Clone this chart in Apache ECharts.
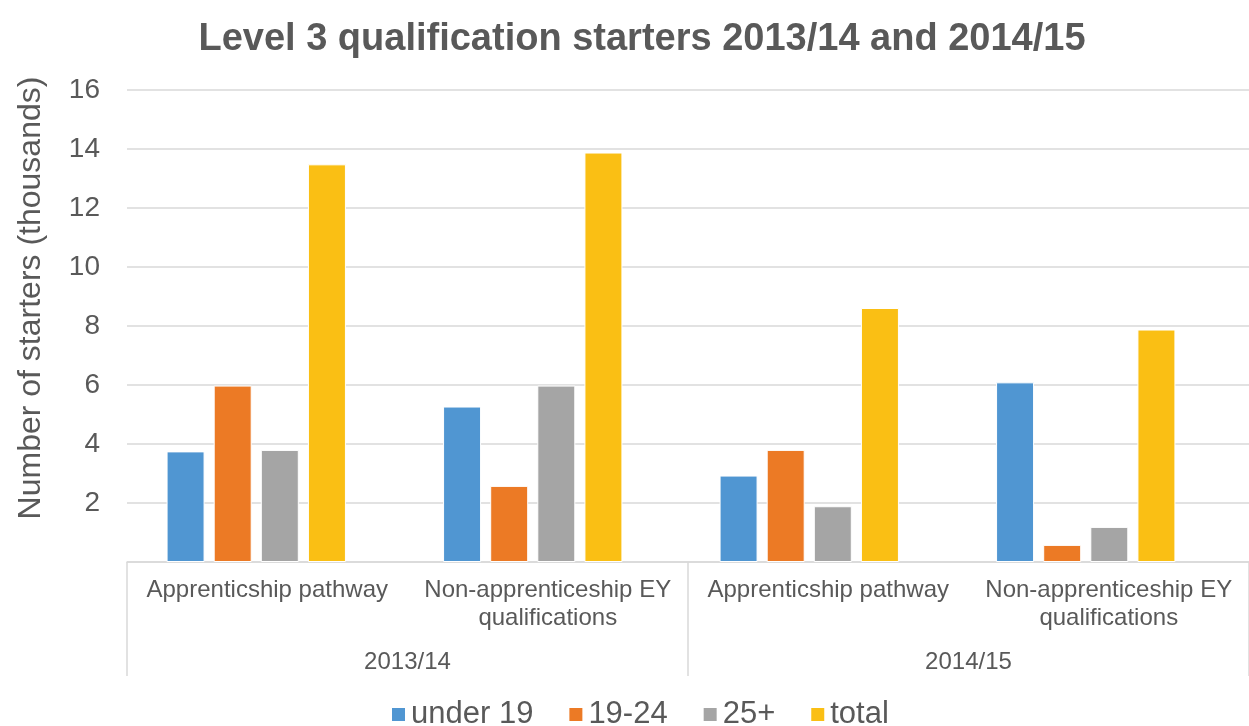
<!DOCTYPE html>
<html>
<head>
<meta charset="utf-8">
<script src="https://cdn.jsdelivr.net/npm/echarts@6/dist/echarts.min.js"></script>
<style>
html,body{margin:0;padding:0;background:#fff;}
#chart{width:1249px;height:726px;}
</style>
</head>
<body>
<div id="chart"></div>
<script>
const titleText = 'Level 3 qualification starters 2013/14 and 2014/15';
const categories = ['Apprenticship pathway', 'Non-apprenticeship EY\nqualifications', 'Apprenticship pathway', 'Non-apprenticeship EY\nqualifications'];
const groups = ['2013/14', '2014/15'];
const seriesNames = ['under 19', '19-24', '25+', 'total'];
const under19 = [3.75, 5.27, 2.93, 6.09];
const age19to24 = [5.98, 2.58, 3.80, 0.58];
const age25plus = [3.80, 5.98, 1.89, 1.19];
const total = [13.48, 13.88, 8.61, 7.88];
const yTicks = [0, 2, 4, 6, 8, 10, 12, 14, 16];

const colors = ['#5096D2', '#EC7A25', '#A5A5A5', '#FABF14'];
const values = [under19, age19to24, age25plus, total];
const textColor = '#595959';
const font = 'Liberation Sans, Arial, sans-serif';

const chart = echarts.init(document.getElementById('chart'), null, {renderer: 'canvas'});
const option = {
  animation: false,
  color: colors,
  textStyle: {fontFamily: font},
  title: {
    text: titleText,
    left: 637,
    textAlign: 'center',
    top: 16,
    textStyle: {fontFamily: font, fontWeight: 'bold', fontSize: 38, color: textColor}
  },
  legend: {
    data: seriesNames,
    left: 390,
    top: 699,
    padding: 0,
    icon: 'rect',
    itemWidth: 15,
    itemHeight: 15,
    itemGap: 34,
    textStyle: {fontFamily: font, fontSize: 31, color: textColor}
  },
  grid: [
    {left: 118, right: 25, top: 90, bottom: 164},
    {left: 127, right: -8, top: 90, bottom: 164}
  ],
  xAxis: [
    {type: 'category', gridIndex: 0, data: categories, show: false},
    {type: 'category', gridIndex: 1, data: categories,
      axisLine: {show: true, lineStyle: {color: '#d9d9d9', width: 1.5}},
      axisTick: {show: false},
      axisLabel: {fontFamily: font, fontSize: 24, color: textColor, margin: 14, lineHeight: 28, interval: 0}
    },
    {type: 'category', gridIndex: 1, data: groups, position: 'bottom',
      axisLine: {show: false},
      axisTick: {show: true, length: 114, lineStyle: {color: '#d9d9d9', width: 1.5}},
      axisLabel: {fontFamily: font, fontSize: 24, color: textColor, margin: 88, interval: 0}
    }
  ],
  yAxis: [
    {type: 'value', gridIndex: 0, min: 0, max: 16, interval: 2, show: false},
    {type: 'value', gridIndex: 1, min: 0, max: 16, interval: 2,
      axisLine: {show: false}, axisTick: {show: false},
      splitLine: {show: true, lineStyle: {color: '#d9d9d9', width: 1.5}},
      axisLabel: {fontFamily: font, fontSize: 28, color: textColor, margin: 27, showMinLabel: false},
      name: 'Number of starters (thousands)',
      nameLocation: 'middle',
      nameGap: 80,
      nameTextStyle: {fontFamily: font, fontSize: 32, color: textColor, padding: [0, 0, 0, 56]}
    }
  ],
  series: seriesNames.map((n, i) => ({
    name: n,
    type: 'bar',
    xAxisIndex: 0,
    yAxisIndex: 0,
    data: values[i],
    barWidth: 38,
    barGap: '24%',
    itemStyle: {color: colors[i], borderColor: '#ffffff', borderWidth: 1}
  }))
};
chart.setOption(option);
</script>
</body>
</html>
